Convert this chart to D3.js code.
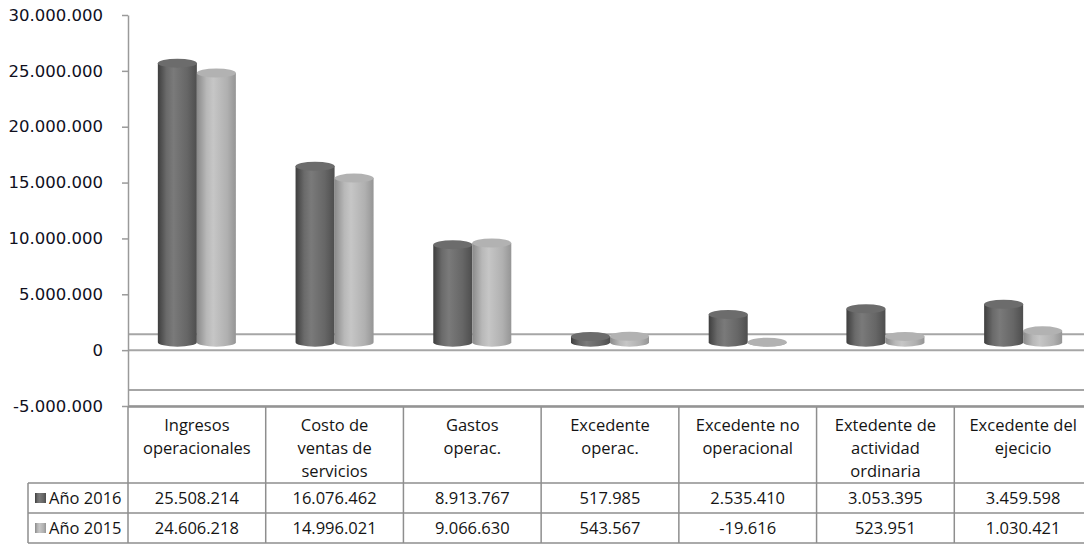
<!DOCTYPE html>
<html>
  <head>
    <meta charset="utf-8">
    <script src="https://cdn.jsdelivr.net/npm/d3@7"></script>
    <style type="text/css">
    body {
      margin: 0;
      background: white;
    }
    .axis path,
    .axis line {
      fill: none;
      stroke: #9a9a9a;
      stroke-width: 1.5;
    }
    .axis text {
      fill: #10101e;
      font-family: "DejaVu Sans", sans-serif;
      font-size: 16.5px;
    }
    .grid line {
      stroke: #a6a6a6;
      stroke-width: 2;
    }
    .table text {
      fill: #141414;
      font-family: "Open Sans", sans-serif;
      font-size: 16.5px;
    }
    .table line {
      stroke: #8e8e8e;
      stroke-width: 1.5;
    }
    </style>
  </head>
  <body>
    <script type="text/javascript">
      // data
      var categories = [
        ["Ingresos", "operacionales"],
        ["Costo de", "ventas de", "servicios"],
        ["Gastos", "operac."],
        ["Excedente", "operac."],
        ["Excedente no", "operacional"],
        ["Extedente de", "actividad", "ordinaria"],
        ["Excedente del", "ejecicio"]
      ];
      var series = ["Año 2016", "Año 2015"];
      var values2016 = [25508214, 16076462, 8913767, 517985, 2535410, 3053395, 3459598];
      var values2015 = [24606218, 14996021, 9066630, 543567, -19616, 523951, 1030421];
      var yTicks = [-5000000, 0, 5000000, 10000000, 15000000, 20000000, 25000000, 30000000];

      var w = 1084;
      var h = 546;

      var catNames = categories.map(function(c) { return c.join(" "); });
      var allValues = [values2016, values2015];

      var es = d3.formatLocale({decimal: ",", thousands: ".", grouping: [3], currency: ["", ""], minus: "-"});
      var fmt = es.format(",.0f");

      var svg = d3.select("body")
                  .append("svg")
                  .attr("width", w)
                  .attr("height", h);

      var defs = svg.append("defs");
      var grads = [
        {id: "g2016", stops: [["0%", "#3e3e3e"], ["22%", "#6a6a6a"], ["40%", "#7a7a7a"], ["75%", "#666"], ["100%", "#4e4e4e"]]},
        {id: "g2015", stops: [["0%", "#8a8a8a"], ["25%", "#b8b8b8"], ["42%", "#c6c6c6"], ["78%", "#b0b0b0"], ["100%", "#959595"]]}
      ];
      grads.forEach(function(g) {
        var lg = defs.append("linearGradient").attr("id", g.id)
                     .attr("x1", "0%").attr("x2", "100%").attr("y1", "0%").attr("y2", "0%");
        g.stops.forEach(function(s) {
          lg.append("stop").attr("offset", s[0]).attr("stop-color", s[1]);
        });
      });
      var topFill = ["#6c6c6c", "#b2b2b2"];

      // scales
      var y = d3.scaleLinear()
                .domain([-5000000, 30000000])
                .range([406, 15]);
      var x = d3.scaleBand()
                .domain(catNames)
                .range([128, 1092]);
      var x1 = d3.scaleBand()
                 .domain(series)
                 .range([0, x.bandwidth()])
                 .paddingOuter(0.765);
      // bars sit a little back in depth, so a slightly squeezed scale
      var barY = d3.scaleLinear()
                   .domain([0, 30000000])
                   .range([y(0) - 8, y(30000000) - 1]);
      var depth = 16;
      var ry = 4.5;

      // floor lines (front and back edge at 0 and at the bottom)
      var floors = [0, -5000000];
      var grid = svg.append("g").attr("class", "grid");
      floors.forEach(function(v) {
        grid.append("line").attr("x1", 128).attr("x2", w)
            .attr("y1", y(v)).attr("y2", y(v));
        grid.append("line").attr("x1", 128).attr("x2", w)
            .attr("y1", y(v) - depth).attr("y2", y(v) - depth);
      });

      // y axis
      var yAxis = d3.axisLeft(y)
                    .tickValues(yTicks)
                    .tickFormat(fmt)
                    .tickSize(6)
                    .tickSizeOuter(0)
                    .tickPadding(19);
      svg.append("g")
         .attr("class", "axis")
         .attr("transform", "translate(128,0)")
         .call(yAxis);

      // cylinders
      series.forEach(function(s, si) {
        var g = svg.append("g");
        var rx = x1.bandwidth() / 2;
        catNames.forEach(function(c, ci) {
          var v = allValues[si][ci];
          var cx = x(c) + x1(s) + rx;
          var yb = barY(0);
          var yt = barY(v);
          var top = Math.min(yb, yt), bot = Math.max(yb, yt);
          g.append("path")
           .attr("d", "M" + (cx - rx) + "," + top +
                      " L" + (cx - rx) + "," + bot +
                      " A" + rx + "," + ry + " 0 0 0 " + (cx + rx) + "," + bot +
                      " L" + (cx + rx) + "," + top + " Z")
           .attr("fill", "url(#g" + s.slice(-4) + ")");
          g.append("ellipse")
           .attr("cx", cx).attr("cy", top)
           .attr("rx", rx).attr("ry", ry)
           .attr("fill", topFill[si]);
        });
      });

      // data table
      var tbl = svg.append("g").attr("class", "table");
      var tTop = 407, hBot = 483, rowH = 30;
      var right = 1092;

      tbl.append("line").attr("x1", 128).attr("x2", right).attr("y1", tTop).attr("y2", tTop);
      [0, 1, 2].forEach(function(r) {
        var yy = hBot + r * rowH;
        tbl.append("line").attr("x1", 28).attr("x2", right).attr("y1", yy).attr("y2", yy);
      });
      tbl.append("line").attr("x1", 28).attr("x2", 28).attr("y1", hBot).attr("y2", hBot + 2 * rowH);
      tbl.append("line").attr("x1", 128).attr("x2", 128).attr("y1", tTop).attr("y2", hBot + 2 * rowH);
      catNames.forEach(function(c) {
        var xx = x(c) + x.bandwidth();
        tbl.append("line").attr("x1", xx).attr("x2", xx).attr("y1", tTop).attr("y2", hBot + 2 * rowH);
      });

      // header labels
      categories.forEach(function(lines, ci) {
        var cx = x(catNames[ci]) + x.bandwidth() / 2;
        var t = tbl.append("text").attr("text-anchor", "middle");
        lines.forEach(function(l, li) {
          t.append("tspan").attr("x", cx).attr("y", 431 + li * 23).text(l);
        });
      });

      // value rows
      series.forEach(function(s, si) {
        var yy = hBot + si * rowH + rowH / 2 + 6;
        tbl.append("rect")
           .attr("x", 35).attr("y", hBot + si * rowH + 10)
           .attr("width", 11).attr("height", 10)
           .attr("fill", "url(#g" + s.slice(-4) + ")");
        tbl.append("text").attr("x", 49).attr("y", yy).text(s);
        catNames.forEach(function(c, ci) {
          tbl.append("text")
             .attr("x", x(c) + x.bandwidth() / 2)
             .attr("y", yy)
             .attr("text-anchor", "middle")
             .text(fmt(allValues[si][ci]));
        });
      });
    </script>
  </body>
</html>
